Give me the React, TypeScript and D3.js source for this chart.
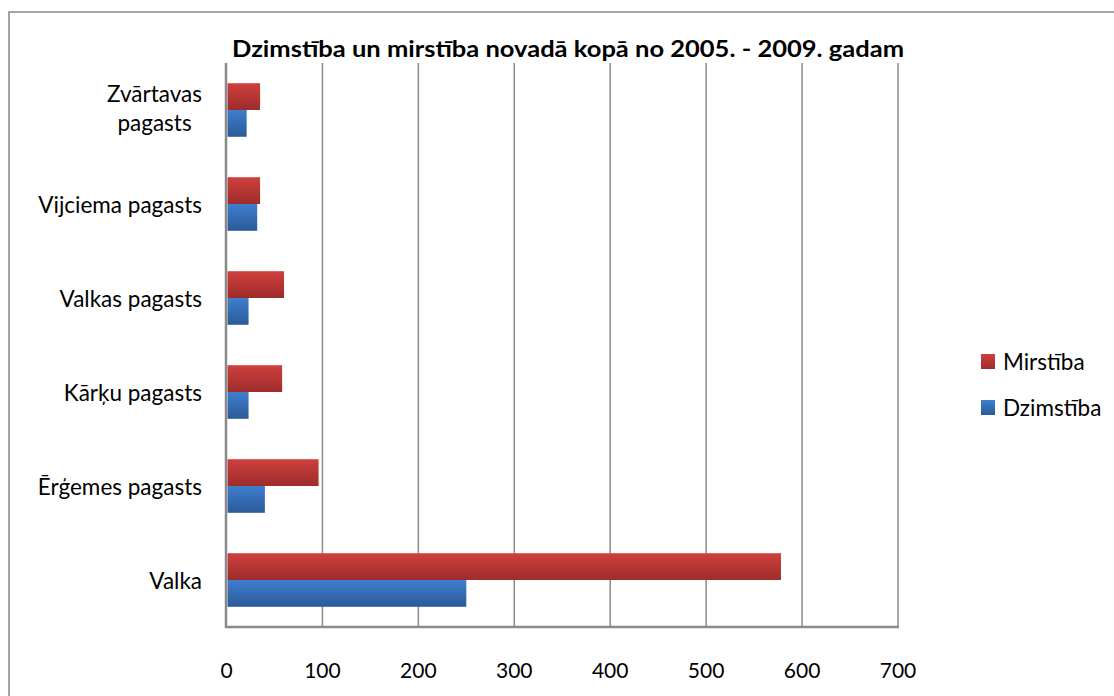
import React, { useEffect, useRef } from "react";
import * as d3 from "d3";

// categories top to bottom, as in the picture
const categories = [
  "Zvārtavas pagasts",
  "Vijciema pagasts",
  "Valkas pagasts",
  "Kārķu pagasts",
  "Ērģemes pagasts",
  "Valka",
];
const seriesNames = ["Mirstība", "Dzimstība"];
const mirstiba = [35, 35, 60, 58, 96, 578];
const dzimstiba = [21, 32, 23, 23, 40, 250];
const xTicks = [0, 100, 200, 300, 400, 500, 600, 700];
const title = "Dzimstība un mirstība novadā kopā no 2005. - 2009. gadam";

const FONT = "Lato, 'Open Sans', sans-serif";
const LABEL_SIZE = 22.5;

const App = () => {
  const svgRef = useRef<SVGSVGElement>(null);

  useEffect(() => {
    const width = 1114;
    const height = 696;
    const plot = { left: 226.5, right: 898, top: 63, bottom: 627 };

    const svg = d3.select(svgRef.current);
    svg.selectAll("*").remove();
    svg.attr("width", width).attr("height", height);

    // gradients like the Excel 2007 fills
    const defs = svg.append("defs");
    const grads = [
      { id: "gradRed", top: "#cf403d", bottom: "#9d2c2b" },
      { id: "gradBlue", top: "#3e7fcf", bottom: "#2b5a97" },
    ];
    grads.forEach((g) => {
      const lg = defs
        .append("linearGradient")
        .attr("id", g.id)
        .attr("x1", 0)
        .attr("y1", 0)
        .attr("x2", 0)
        .attr("y2", 1);
      lg.append("stop").attr("offset", "0%").attr("stop-color", g.top);
      lg.append("stop").attr("offset", "100%").attr("stop-color", g.bottom);
    });
    const fillFor = { "Mirstība": "url(#gradRed)", "Dzimstība": "url(#gradBlue)" };

    // outer chart frame (runs off right/bottom edge)
    svg
      .append("rect")
      .attr("x", 9)
      .attr("y", 12)
      .attr("width", width + 20)
      .attr("height", height + 20)
      .attr("fill", "white")
      .attr("stroke", "#878787")
      .attr("stroke-width", 1.5);

    const x = d3.scaleLinear().domain([0, 700]).range([plot.left, plot.right]);
    const y = d3
      .scaleBand()
      .domain(categories)
      .range([plot.top, plot.bottom])
      .paddingInner(0.43)
      .paddingOuter(0.215);
    const ySub = d3.scaleBand().domain(seriesNames).range([0, y.bandwidth()]);

    // vertical gridlines
    svg
      .append("g")
      .selectAll("line")
      .data(xTicks.slice(1))
      .enter()
      .append("line")
      .attr("x1", (d) => x(d))
      .attr("x2", (d) => x(d))
      .attr("y1", plot.top)
      .attr("y2", plot.bottom)
      .attr("stroke", "#8c8c8c")
      .attr("stroke-width", 1.5);

    // bars
    const rows = categories.map((c, i) => ({
      cat: c,
      values: [
        { name: "Mirstība", value: mirstiba[i] },
        { name: "Dzimstība", value: dzimstiba[i] },
      ],
    }));
    const groups = svg
      .append("g")
      .selectAll("g")
      .data(rows)
      .enter()
      .append("g")
      .attr("transform", (d) => `translate(0,${y(d.cat)})`);
    groups
      .selectAll("rect")
      .data((d) => d.values)
      .enter()
      .append("rect")
      .attr("x", x(0) + 1)
      .attr("y", (d) => ySub(d.name)!)
      .attr("width", (d) => x(d.value) - x(0) - 1)
      .attr("height", ySub.bandwidth())
      .attr("fill", (d) => fillFor[d.name]);

    // axes lines
    svg
      .append("line")
      .attr("x1", plot.left - 0.5)
      .attr("x2", plot.left - 0.5)
      .attr("y1", plot.top)
      .attr("y2", plot.bottom + 1)
      .attr("stroke", "#8a8a8a")
      .attr("stroke-width", 2.5);
    svg
      .append("line")
      .attr("x1", plot.left - 1.5)
      .attr("x2", plot.right + 1)
      .attr("y1", plot.bottom)
      .attr("y2", plot.bottom)
      .attr("stroke", "#8a8a8a")
      .attr("stroke-width", 2.5);

    // x tick labels
    svg
      .append("g")
      .selectAll("text")
      .data(xTicks)
      .enter()
      .append("text")
      .attr("x", (d) => x(d))
      .attr("y", 678)
      .attr("text-anchor", "middle")
      .attr("font-family", FONT)
      .attr("font-size", 21)
      .attr("fill", "#000")
      .text((d) => d);

    // category labels (wrap the long one into two centred lines)
    const labelRight = 202;
    categories.forEach((c) => {
      const cy = y(c)! + y.bandwidth() / 2;
      const lines = c === "Zvārtavas pagasts" ? ["Zvārtavas", "pagasts"] : [c];
      const t = svg
        .append("text")
        .attr("font-family", FONT)
        .attr("font-size", LABEL_SIZE)
        .attr("fill", "#000");
      if (lines.length === 1) {
        t.attr("x", labelRight)
          .attr("y", cy + 1)
          .attr("dy", "0.35em")
          .attr("text-anchor", "end")
          .text(c);
      } else {
        const widths = lines.map((l) => {
          const s = svg
            .append("text")
            .attr("font-family", FONT)
            .attr("font-size", LABEL_SIZE)
            .text(l);
          const w = (s.node() as SVGTextElement).getComputedTextLength();
          s.remove();
          return w;
        });
        const cx = labelRight - Math.max(...widths) / 2;
        t.attr("text-anchor", "middle");
        lines.forEach((l, i) => {
          t.append("tspan")
            .attr("x", cx)
            .attr("y", cy - 1 + (i - (lines.length - 1) / 2) * 29)
            .attr("dy", "0.35em")
            .text(l);
        });
      }
    });

    // title
    svg
      .append("text")
      .attr("x", 568)
      .attr("y", 57)
      .attr("text-anchor", "middle")
      .attr("font-family", FONT)
      .attr("font-weight", "bold")
      .attr("font-size", 22)
      .attr("textLength", 672)
      .attr("lengthAdjust", "spacingAndGlyphs")
      .attr("fill", "#000")
      .text(title);

    // legend
    const legend = svg
      .append("g")
      .selectAll("g")
      .data(seriesNames)
      .enter()
      .append("g")
      .attr("transform", (d, i) => `translate(981,${354 + i * 46})`);
    legend
      .append("rect")
      .attr("width", 14)
      .attr("height", 15)
      .attr("fill", (d) => fillFor[d]);
    legend
      .append("text")
      .attr("x", 22)
      .attr("y", 8)
      .attr("dy", "0.35em")
      .attr("font-family", FONT)
      .attr("font-size", LABEL_SIZE)
      .attr("fill", "#000")
      .text((d) => d);
  }, []);

  return (
    <svg
      ref={svgRef}
      style={{ position: "absolute", left: 0, top: 0, display: "block" }}
    ></svg>
  );
};

export default App;
